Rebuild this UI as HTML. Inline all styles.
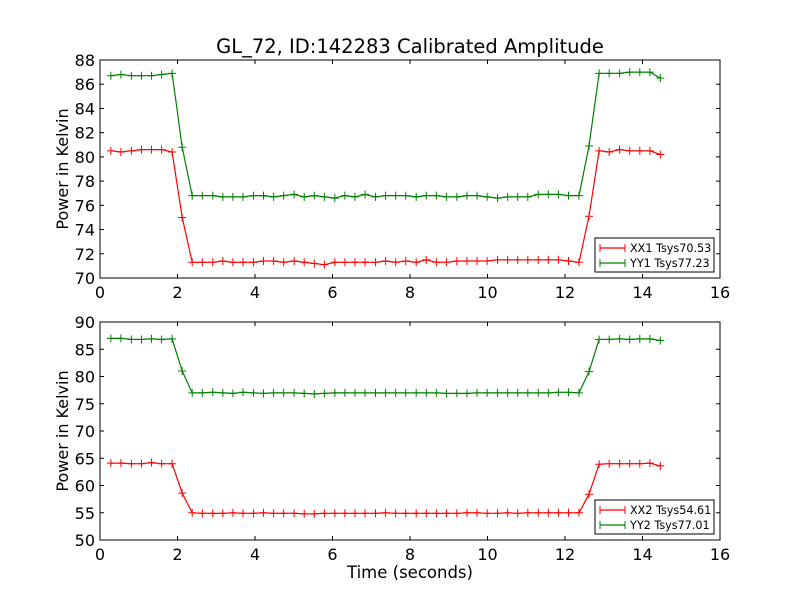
<!DOCTYPE html>
<html><head><meta charset="utf-8"><style>
html,body{margin:0;padding:0;background:#fff}
svg{display:block;font-family:"DejaVu Sans","Liberation Sans",sans-serif}
</style></head><body>
<svg id="chart" width="800" height="600" viewBox="0 0 800 600" xmlns="http://www.w3.org/2000/svg">
<rect width="800" height="600" fill="#fff"/>
<text x="410" y="53" font-size="19.5" text-anchor="middle">GL_72, ID:142283 Calibrated Amplitude</text>
<g id="plots"></g>
</svg>
<script>
const times=[0.28,0.54,0.81,1.07,1.33,1.59,1.86,2.12,2.38,2.64,2.91,3.17,3.43,3.69,3.96,4.22,4.48,4.74,5.01,5.27,5.53,5.79,6.06,6.32,6.58,6.84,7.11,7.37,7.63,7.89,8.16,8.42,8.68,8.94,9.21,9.47,9.73,9.99,10.26,10.52,10.78,11.04,11.31,11.57,11.83,12.09,12.36,12.62,12.88,13.14,13.41,13.67,13.93,14.19,14.46];
const xx1=[80.5,80.4,80.5,80.6,80.6,80.6,80.4,75.0,71.3,71.3,71.3,71.4,71.3,71.3,71.3,71.4,71.4,71.3,71.4,71.3,71.2,71.1,71.3,71.3,71.3,71.3,71.3,71.4,71.3,71.4,71.3,71.5,71.3,71.3,71.4,71.4,71.4,71.4,71.5,71.5,71.5,71.5,71.5,71.5,71.5,71.4,71.3,75.1,80.5,80.4,80.6,80.5,80.5,80.5,80.2];
const yy1=[86.7,86.8,86.7,86.7,86.7,86.8,86.9,80.8,76.8,76.8,76.8,76.7,76.7,76.7,76.8,76.8,76.7,76.8,76.9,76.7,76.8,76.7,76.6,76.8,76.7,76.9,76.7,76.8,76.8,76.8,76.7,76.8,76.8,76.7,76.7,76.8,76.8,76.7,76.6,76.7,76.7,76.7,76.9,76.9,76.9,76.8,76.8,80.9,86.9,86.9,86.9,87.0,87.0,87.0,86.5];
const xx2=[64.1,64.1,64.0,64.0,64.2,64.0,64.0,58.6,55.0,54.9,54.9,54.9,55.0,54.9,54.9,55.0,54.9,54.9,54.9,54.8,54.8,54.9,54.9,54.9,54.9,54.9,54.9,55.0,54.9,54.9,54.9,54.9,54.9,54.9,54.9,55.0,55.0,54.9,54.9,55.0,54.9,55.0,55.0,55.0,55.0,55.0,55.0,58.4,63.9,64.0,64.0,64.0,64.0,64.1,63.6];
const yy2=[87.0,87.0,86.8,86.8,86.9,86.8,86.9,81.0,77.0,77.0,77.1,77.0,76.9,77.1,77.0,76.9,77.0,77.0,77.0,76.9,76.8,76.9,77.0,77.0,77.0,77.0,77.0,77.0,77.0,77.0,77.0,77.0,77.0,76.9,76.9,76.9,77.0,77.0,77.0,77.0,77.0,77.0,77.0,77.0,77.1,77.1,77.0,80.9,86.8,86.8,86.9,86.8,86.9,86.9,86.6];
const xTicks=[0,2,4,6,8,10,12,14,16];
const yTicksTop=[70,72,74,76,78,80,82,84,86,88];
const yTicksBot=[50,55,60,65,70,75,80,85,90];
const legendTop=["XX1 Tsys70.53","YY1 Tsys77.23"];
const legendBot=["XX2 Tsys54.61","YY2 Tsys77.01"];

const NS="http://www.w3.org/2000/svg";
const root=document.getElementById('plots');
function mk(tag,attrs,parent,text){const e=document.createElementNS(NS,tag);for(const k in attrs)e.setAttribute(k,attrs[k]);if(text!==undefined)e.textContent=text;parent.appendChild(e);return e;}

function panel(name,top,bottom,ymin,ymax,yTicks,series,labels,showX){
  const L=100,R=720;
  const g=mk('g',{},root);
  
  
  const sx=v=>L+(v-0)/(16-0)*(R-L);
  const sy=v=>bottom-(v-ymin)/(ymax-ymin)*(bottom-top);
  xTicks.forEach(t=>{
    const x=sx(t);
    mk('line',{x1:x,y1:bottom,x2:x,y2:bottom-4,stroke:'#000'},g);
    mk('line',{x1:x,y1:top,x2:x,y2:top+4,stroke:'#000'},g);
    const tl=mk('text',{x:x,y:bottom+20,'font-size':16,'text-anchor':'middle'},g,String(t));
    
    
  });
  yTicks.forEach(t=>{
    const y=sy(t);
    mk('line',{x1:L,y1:y,x2:L+4,y2:y,stroke:'#000'},g);
    mk('line',{x1:R,y1:y,x2:R-4,y2:y,stroke:'#000'},g);
    const tl=mk('text',{x:L-5,y:y+6,'font-size':16,'text-anchor':'end'},g,String(t));
    
    
  });
  const colors=['#ff0000','#008000'];
  series.forEach((vals,si)=>{
    const sg=mk('g',{},g);
    
    
    const pts=vals.map((v,i)=>sx(times[i]).toFixed(1)+','+sy(v).toFixed(1)).join(' ');
    mk('polyline',{points:pts,fill:'none',stroke:colors[si],'stroke-width':1.2},sg);
    vals.forEach((v,i)=>{
      const x=sx(times[i]),y=sy(v);
      mk('path',{d:`M${x-4},${y}H${x+4}M${x},${y-4}V${y+4}`,stroke:colors[si],'stroke-width':1},sg);
    });
  });
  mk('rect',{x:L,y:top,width:R-L,height:bottom-top,fill:'none',stroke:'#000','stroke-width':1},g);
  const yl=mk('text',{x:0,y:0,'font-size':16,'text-anchor':'middle',transform:`translate(68,${(top+bottom)/2}) rotate(-90)`},g,'Power in Kelvin');
  
  
  const lg=mk('g',{},g);
  
  
  const lx=595,ly=bottom-40;
  mk('rect',{x:lx,y:ly,width:119,height:34,fill:'#fff',stroke:'#000'},lg);
  labels.forEach((lab,i)=>{
    const yy=ly+10+i*15;
    mk('line',{x1:lx+5,y1:yy,x2:lx+30,y2:yy,stroke:colors[i],'stroke-width':1.2},lg);
    mk('path',{d:`M${lx+5},${yy-4}V${yy+4}M${lx+30},${yy-4}V${yy+4}`,stroke:colors[i]},lg);
    const t=mk('text',{x:lx+35,y:yy+4,'font-size':11.2},lg,lab);
    
    
  });
  if(showX){
    const xl=mk('text',{x:410,y:bottom+38,'font-size':16.5,'text-anchor':'middle'},g,'Time (seconds)');
    
    
  }
}
panel('top-panel',60,278,70,88,yTicksTop,[xx1,yy1],legendTop,false);
panel('bottom-panel',322,540,50,90,yTicksBot,[xx2,yy2],legendBot,true);
</script>
</body></html>
